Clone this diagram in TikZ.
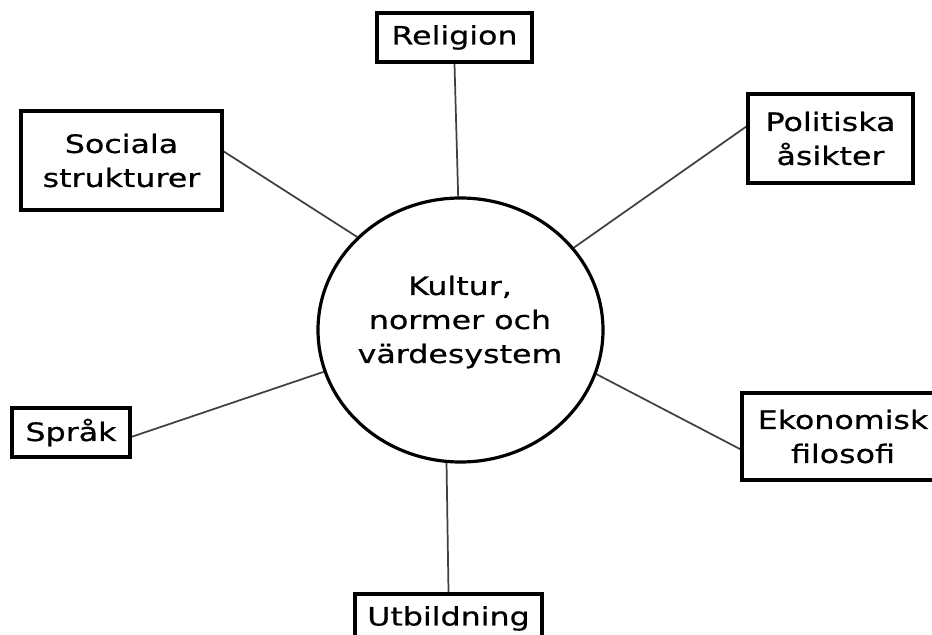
\documentclass[tikz,border=0pt]{standalone}
\usepackage{fontspec}
\setmainfont{DejaVu Sans}[FakeStretch=1.25,FakeBold=0.6]
\usetikzlibrary{shapes.geometric,backgrounds}

\begin{document}
\begin{tikzpicture}[
  x=0.75pt, y=-0.75pt,
  box/.style={rectangle, draw, line width=2.8pt, fill=white, inner sep=0pt, align=center},
  hub/.style={ellipse, draw, line width=2.4pt, inner sep=0pt},
  edge/.style={line width=1.3pt, black!75},
  every node/.style={font=\fontsize{19}{25.5}\selectfont}
]
\useasboundingbox (0,0) rectangle (932,635);
\clip (0,0) rectangle (932,635);

\node[hub, minimum width=213.75pt, minimum height=198pt] (kultur) at (460.5,330) {};
\node[align=center] (kulturtxt) at (460,322) {Kultur,\\normer och\\värdesystem};

\node[box, minimum width=116.25pt, minimum height=36.75pt] (rel) at (454.5,37.5) {Religion};
\node[box, minimum width=150.75pt, minimum height=74.25pt] (soc) at (121.5,160.5) {Sociala\\strukturer};
\node[box, minimum width=123.75pt, minimum height=66.75pt] (pol) at (830.5,138.5) {Politiska\\åsikter};
\node[box, minimum width=88.5pt, minimum height=36.75pt] (spr) at (71,432.5) {Språk};
\node[box, minimum width=151.5pt, minimum height=65.25pt] (eko) at (843,436.5) {Ekonomisk\\filosofi};
\node[box, minimum width=140.25pt, minimum height=36.75pt] (utb) at (448.5,618.5) {Utbildning};

\begin{scope}[on background layer]
\draw[edge] (rel.south) -- (kultur.91);
\draw[edge] (soc.5) -- (kultur.138);
\draw[edge] (pol.172) -- (kultur.36);
\draw[edge] (spr.-4) -- (kultur.197);
\draw[edge] (eko.187) -- (kultur.-18);
\draw[edge] (utb.north) -- (kultur.264);
\end{scope}
\end{tikzpicture}
\end{document}
